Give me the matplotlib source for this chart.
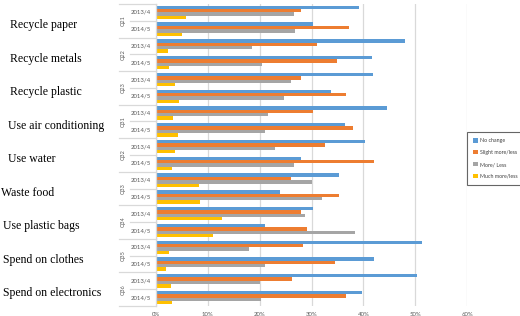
import numpy as np
import matplotlib
matplotlib.use('Agg')
import matplotlib.pyplot as plt
import matplotlib.transforms as mtransforms

activities = ['Recycle paper', 'Recycle metals', 'Recycle plastic', 'Use air conditioning',
              'Use water', 'Waste food', 'Use plastic bags', 'Spend on clothes',
              'Spend on electronics']
questions = ['Q21', 'Q22', 'Q23', 'Q31', 'Q32', 'Q33', 'Q34', 'Q35', 'Q36']
years = ['2013/4', '2014/5']
series = ['No change', 'Slight more/less', 'More/ Less', 'Much more/less']

# percentages, order: Q21 2013/4, Q21 2014/5, Q22 2013/4, ...
no_change = [39.2, 30.3, 48.0, 41.7, 41.8, 33.8, 44.5, 36.5, 40.3, 27.9, 35.2, 23.9, 30.3, 21.0, 51.2, 42.0, 50.4, 39.7]
slight = [27.9, 37.2, 31.1, 34.9, 28.0, 36.7, 30.3, 37.9, 32.6, 42.1, 26.0, 35.3, 27.9, 29.2, 28.3, 34.6, 26.3, 36.7]
more_less = [26.7, 26.9, 18.5, 20.4, 26.0, 24.7, 21.7, 21.1, 22.9, 26.7, 30.1, 32.0, 28.8, 38.3, 17.9, 21.0, 20.1, 20.2]
much = [5.8, 5.1, 2.3, 2.6, 3.8, 4.5, 3.3, 4.2, 3.8, 3.1, 8.3, 8.5, 12.8, 11.0, 2.6, 1.9, 3.0, 3.1]

colors = ['#5B9BD5', '#ED7D31', '#A5A5A5', '#FFC000']
label_x = [10, 10, 10, 8, 8, 1, 3, 3, 3]  # left label start, pixels

fig = plt.figure(figsize=(5.2, 3.16), dpi=100)
ax = fig.add_axes([155.7 / 520, 10 / 316, 311.6 / 520, 302 / 316])

rows = np.arange(len(no_change))
h = 0.2
for k, vals in enumerate([no_change, slight, more_less, much]):
    ax.barh(rows + (k - 1.5) * h, vals, height=h, color=colors[k], label=series[k])

ax.set_xlim(0, 60)
ax.set_ylim(len(rows) - 0.5, -0.5)
ax.set_xticks(range(0, 61, 10))
ax.set_xticklabels(['%d%%' % t for t in range(0, 61, 10)], fontsize=4.3, color='#595959', family='Lato')
ax.tick_params(axis='x', length=0, pad=4)
ax.set_yticks([])
ax.grid(axis='x', color='#D9D9D9', linewidth=0.9)
ax.set_axisbelow(True)
for s in ['top', 'right', 'bottom']:
    ax.spines[s].set_visible(False)
ax.spines['left'].set_color('#D9D9D9')
ax.spines['left'].set_linewidth(0.9)

# two level category axis
tr = mtransforms.blended_transform_factory(ax.transAxes, ax.transData)
x_outer = (119 - 155.7) / 311.6
x_inner = (130 - 155.7) / 311.6
for g in range(len(questions)):
    ax.plot([x_outer, 0], [2 * g - 0.5] * 2, transform=tr, color='#D9D9D9', lw=0.9, clip_on=False)
    ax.plot([x_inner, 0], [2 * g + 0.5] * 2, transform=tr, color='#D9D9D9', lw=0.9, clip_on=False)
    ax.text((123 - 155.7) / 311.6, 2 * g + 0.5, questions[g], transform=tr, rotation=90,
            ha='center', va='center', fontsize=4, color='#595959', family='Lato')
    for j in range(2):
        ax.text((141 - 155.7) / 311.6, 2 * g + j, years[j], transform=tr,
                ha='center', va='center', fontsize=4.3, color='#595959', family='Lato')
ax.plot([x_outer, 0], [len(rows) - 0.5] * 2, transform=tr, color='#D9D9D9', lw=0.9, clip_on=False)

# activity labels on the far left
trf = mtransforms.blended_transform_factory(fig.transFigure, ax.transData)
for g, name in enumerate(activities):
    ax.text(label_x[g] / 520, 2 * g + 0.75, name, transform=trf, ha='left', va='center',
            fontsize=8.5, family='Liberation Serif', color='black')

leg = fig.legend(loc='upper left', bbox_to_anchor=(467 / 520, 1 - 132 / 316),
                 prop={'family': 'Lato', 'size': 3.8}, frameon=True, fancybox=False,
                 handlelength=0.8, handleheight=0.8, handletextpad=0.4, labelspacing=1.3,
                 borderpad=1.2, borderaxespad=0)
leg.get_frame().set_edgecolor('#404040')
leg.get_frame().set_linewidth(0.8)
for t in leg.get_texts():
    t.set_color('#404040')

fig.savefig('out.png', dpi=100)
